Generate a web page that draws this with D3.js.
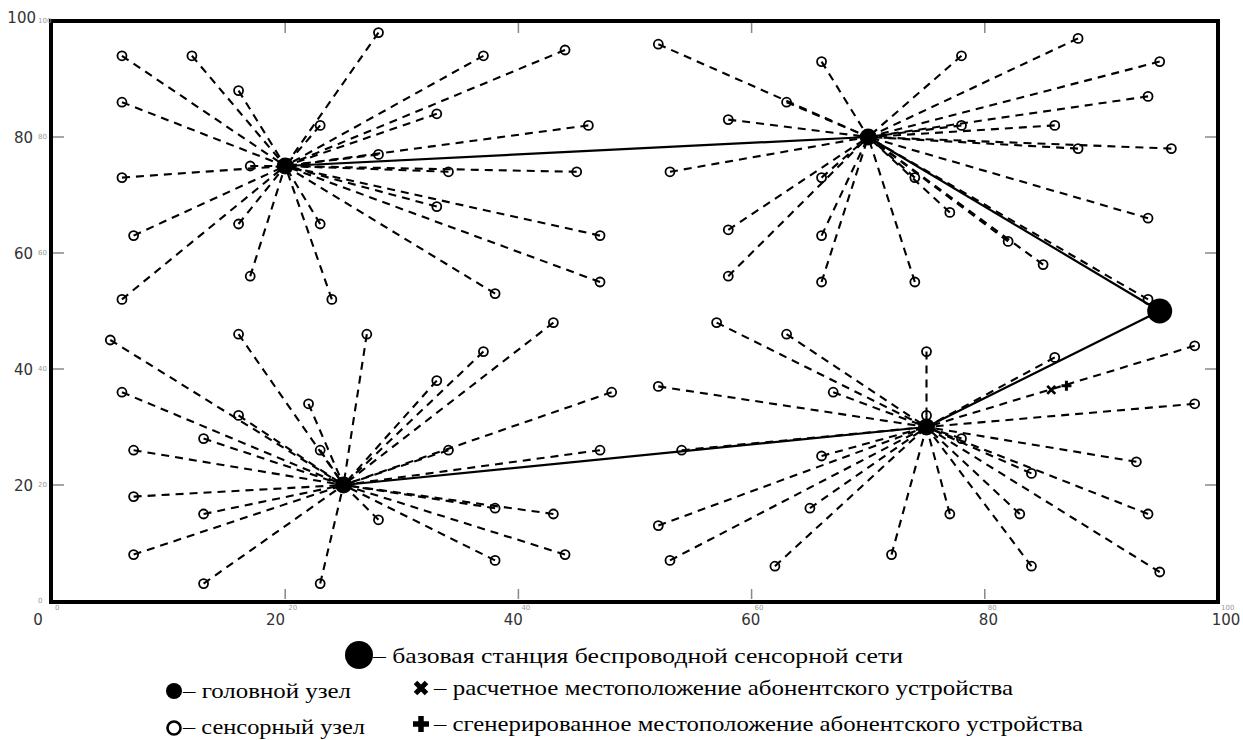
<!DOCTYPE html>
<html>
<head>
<meta charset="utf-8">
<script src="https://cdn.jsdelivr.net/npm/d3@7"></script>
<style>
  body { margin: 0; background: #fff; }
  svg { display: block; }
</style>
</head>
<body>
<svg id="chart" width="1243" height="740"></svg>
<script>
// head nodes (cluster heads) and base station
let heads = [[20, 75], [70, 80], [25, 20], [75, 30]];
let base = [95, 50];
let estimated = [85.7, 36.4];
let generated = [87.0, 37.1];

// sensor nodes per cluster
let cluster1 = [[6, 94], [12, 94], [16, 88], [28, 98], [37, 94], [44, 95], [6, 86], [23, 82],
  [33, 84], [46, 82], [28, 77], [17, 75], [6, 73], [34, 74], [45, 74], [33, 68], [47, 63],
  [7, 63], [16, 65], [23, 65], [17, 56], [24, 52], [6, 52], [38, 53], [47, 55]];
let cluster2 = [[52, 96], [66, 93], [78, 94], [88, 97], [95, 93], [94, 87], [63, 86], [58, 83],
  [78, 82], [86, 82], [88, 78], [96, 78], [53, 74], [66, 73], [74, 73], [77, 67], [94, 66],
  [58, 64], [66, 63], [82, 62], [85, 58], [58, 56], [66, 55], [74, 55], [94, 52]];
let cluster3 = [[5, 45], [16, 46], [27, 46], [43, 48], [37, 43], [33, 38], [6, 36], [48, 36],
  [22, 34], [16, 32], [13, 28], [7, 26], [23, 26], [34, 26], [47, 26], [7, 18], [38, 16],
  [43, 15], [13, 15], [28, 14], [7, 8], [38, 7], [44, 8], [13, 3], [23, 3]];
let cluster4 = [[57, 48], [63, 46], [75, 43], [86, 42], [98, 44], [52, 37], [67, 36], [75, 32],
  [98, 34], [78, 28], [54, 26], [66, 25], [93, 24], [84, 22], [65, 16], [77, 15], [83, 15],
  [94, 15], [52, 13], [53, 7], [72, 8], [62, 6], [84, 6], [95, 5]];
let clusters = [cluster1, cluster2, cluster3, cluster4];

// backbone links: head -> head / head -> base
let links = [[heads[0], heads[1]], [heads[1], base], [heads[2], heads[3]], [heads[3], base]];

let ticks = [0, 20, 40, 60, 80, 100];

let legendRows = [
  { text: "– базовая станция беспроводной сенсорной сети", x: 373, y: 655, len: 530 },
  { text: "– головной узел", x: 183, y: 690, len: 168 },
  { text: "– расчетное местоположение абонентского устройства", x: 434, y: 687, len: 579 },
  { text: "– сенсорный узел", x: 183, y: 726, len: 182 },
  { text: "– сгенерированное местоположение абонентского устройства", x: 434, y: 723, len: 649 }
];

let svg = d3.select("#chart");

let x = d3.scaleLinear().domain([0, 100]).range([52, 1218]);
let y = d3.scaleLinear().domain([0, 100]).range([601, 21]);
let xLabel = d3.scaleLinear().domain([0, 100]).range([38, 1226]);

// sensor -> head dashed links
let sensorLinks = [];
clusters.forEach((c, i) => c.forEach((s) => sensorLinks.push({ s: s, h: heads[i] })));

svg.append("g")
  .selectAll("line")
  .data(sensorLinks)
  .enter()
  .append("line")
  .attr("x1", (d) => x(d.s[0]))
  .attr("y1", (d) => y(d.s[1]))
  .attr("x2", (d) => x(d.h[0]))
  .attr("y2", (d) => y(d.h[1]))
  .attr("stroke", "#000")
  .attr("stroke-width", 2.1)
  .attr("stroke-dasharray", "8,6");

svg.append("g")
  .selectAll("line")
  .data(links)
  .enter()
  .append("line")
  .attr("x1", (d) => x(d[0][0]))
  .attr("y1", (d) => y(d[0][1]))
  .attr("x2", (d) => x(d[1][0]))
  .attr("y2", (d) => y(d[1][1]))
  .attr("stroke", "#000")
  .attr("stroke-width", 2.2);

svg.append("g")
  .selectAll("circle")
  .data(sensorLinks)
  .enter()
  .append("circle")
  .attr("cx", (d) => x(d.s[0]))
  .attr("cy", (d) => y(d.s[1]))
  .attr("r", 4.5)
  .attr("fill", "none")
  .attr("stroke", "#000")
  .attr("stroke-width", 1.8);

svg.append("g")
  .selectAll("circle")
  .data(heads)
  .enter()
  .append("circle")
  .attr("cx", (d) => x(d[0]))
  .attr("cy", (d) => y(d[1]))
  .attr("r", 8.5)
  .attr("fill", "#000");

svg.append("circle")
  .attr("cx", x(base[0]))
  .attr("cy", y(base[1]))
  .attr("r", 12.5)
  .attr("fill", "#000");

let drawX = (g, cx, cy, s, w) => {
  g.append("path")
    .attr("d", `M${cx - s},${cy - s}L${cx + s},${cy + s}M${cx - s},${cy + s}L${cx + s},${cy - s}`)
    .attr("stroke", "#000")
    .attr("stroke-width", w);
};
let drawPlus = (g, cx, cy, s, w) => {
  g.append("path")
    .attr("d", `M${cx - s},${cy}L${cx + s},${cy}M${cx},${cy - s}L${cx},${cy + s}`)
    .attr("stroke", "#000")
    .attr("stroke-width", w);
};

drawX(svg, x(estimated[0]), y(estimated[1]), 4, 2.8);
drawPlus(svg, x(generated[0]), y(generated[1]), 5, 3);

// frame and inner ticks
svg.append("rect")
  .attr("x", x(0) - 1)
  .attr("y", y(100))
  .attr("width", x(100) - x(0) + 1)
  .attr("height", y(0) - y(100) + 1)
  .attr("fill", "none")
  .attr("stroke", "#000")
  .attr("stroke-width", 4);

let inner = ticks.slice(1, -1);
let tickG = svg.append("g").attr("stroke", "#888").attr("stroke-width", 1.5);
inner.forEach((v) => {
  tickG.append("line").attr("x1", x(v)).attr("x2", x(v)).attr("y1", y(0) - 2).attr("y2", y(0) - 12);
  tickG.append("line").attr("x1", x(v)).attr("x2", x(v)).attr("y1", y(100) + 2).attr("y2", y(100) + 12);
  tickG.append("line").attr("y1", y(v)).attr("y2", y(v)).attr("x1", x(0) + 1).attr("x2", x(0) + 12);
  tickG.append("line").attr("y1", y(v)).attr("y2", y(v)).attr("x1", x(100) - 2).attr("x2", x(100) - 13);
});

// tick labels
let labelG = svg.append("g")
  .attr("font-family", "DejaVu Sans, sans-serif")
  .attr("font-size", 15)
  .attr("fill", "#333");

labelG.selectAll(".xl")
  .data(ticks)
  .enter()
  .append("text")
  .attr("x", (d) => xLabel(d))
  .attr("y", 625)
  .attr("text-anchor", "middle")
  .text((d) => d);

labelG.selectAll(".yl")
  .data(ticks.slice(1))
  .enter()
  .append("text")
  .attr("x", (d) => (d === 100 ? 36 : 33))
  .attr("y", (d) => (d === 100 ? y(d) - 3 : y(d) + 1))
  .attr("text-anchor", "end")
  .attr("dominant-baseline", "central")
  .text((d) => d);

// tiny duplicate labels
let tinyG = svg.append("g")
  .attr("font-family", "DejaVu Sans, sans-serif")
  .attr("font-size", 7)
  .attr("fill", "#999");

tinyG.selectAll(".tx")
  .data(ticks)
  .enter()
  .append("text")
  .attr("x", (d) => x(d) + 3)
  .attr("y", 610)
  .text((d) => d);

tinyG.selectAll(".ty")
  .data(ticks)
  .enter()
  .append("text")
  .attr("x", 38)
  .attr("y", (d) => y(d) + 2)
  .text((d) => d);

// legend
let legend = svg.append("g");

legend.append("circle").attr("cx", 359).attr("cy", 655).attr("r", 14).attr("fill", "#000");
legend.append("circle").attr("cx", 174).attr("cy", 691).attr("r", 8).attr("fill", "#000");
legend.append("circle").attr("cx", 174).attr("cy", 728).attr("r", 6.5)
  .attr("fill", "none").attr("stroke", "#000").attr("stroke-width", 2.6);
drawX(legend, 421, 688, 5.5, 5);
drawPlus(legend, 421, 724, 8, 5.5);

legend.selectAll("text")
  .data(legendRows)
  .enter()
  .append("text")
  .attr("x", (d) => d.x)
  .attr("y", (d) => d.y)
  .attr("dominant-baseline", "central")
  .attr("font-family", "Liberation Serif, Times New Roman, serif")
  .attr("font-size", 22)
  .attr("textLength", (d) => d.len)
  .attr("lengthAdjust", "spacingAndGlyphs")
  .text((d) => d.text);
</script>
</body>
</html>
